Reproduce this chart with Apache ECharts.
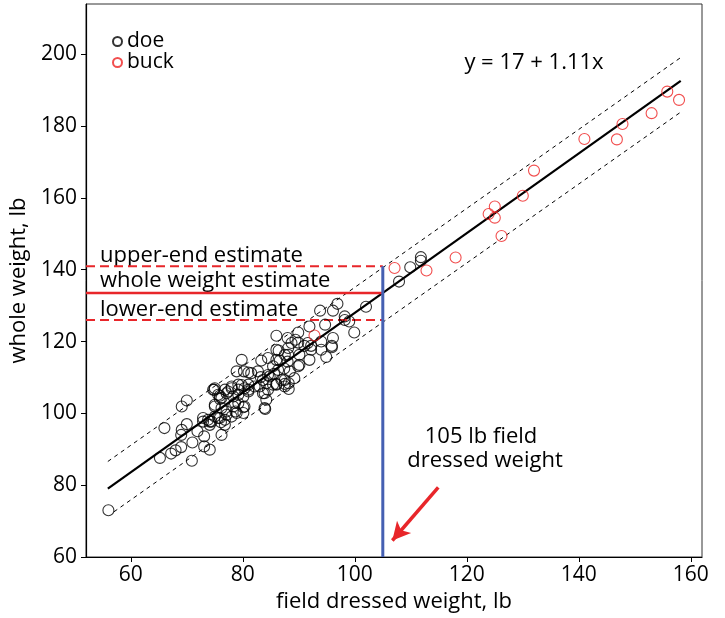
<!DOCTYPE html>
<html>
<head>
<meta charset="utf-8">
<script src="https://cdn.jsdelivr.net/npm/echarts@6/dist/echarts.min.js"></script>
<style>
  html, body { margin: 0; padding: 0; background: #fff; }
  #main { width: 725px; height: 618px; }
</style>
</head>
<body>
<div id="main"></div>
<script>
// regression y = 17 + 1.11x
const intercept = 17;
const slope = 1.11;
const fitRange = [55.9, 158.2];

// prediction band ends
const upperBand = [[55.9, 86.6], [158.3, 199.2]];
const lowerBand = [[57.0, 72.6], [158.3, 184.0]];

// the worked example at 105 lb
const fieldWeight = 105;
const upperEstimate = 141;
const lowerEstimate = 126;
const wholeEstimate = intercept + slope * fieldWeight;

const xTicks = [60, 80, 100, 120, 140, 160];
const yTicks = [60, 80, 100, 120, 140, 160, 180, 200];

const arrowFrom = [114.9, 79.4];
const arrowTo = [106.7, 64.6];

const doe = [
  [56.0, 73.0], [65.2, 87.6], [66.0, 95.9], [67.2, 88.8], [68.0, 89.7], [69.0, 90.6],
  [69.1, 101.9], [70.0, 103.6], [70.0, 97.0], [69.1, 95.4], [69.0, 94.0], [70.9, 86.8],
  [71.9, 95.0], [71.0, 91.9], [73.1, 93.6], [73.1, 90.8], [74.1, 89.9], [72.9, 97.7],
  [74.1, 97.7], [74.9, 106.6], [75.0, 101.9], [75.9, 104.9], [76.1, 97.5], [76.2, 94.0],
  [77.1, 105.6], [77.1, 99.6], [76.8, 96.8], [78.0, 107.0], [78.6, 102.9], [78.7, 100.5],
  [79.2, 108.0], [80.1, 101.7], [80.3, 107.0], [81.0, 108.0], [83.0, 107.5], [83.9, 105.6],
  [84.2, 103.8], [84.0, 101.2], [86.0, 108.2], [87.5, 108.2],
  [73.8, 98.2], [72.9, 98.7], [74.1, 96.8], [75.0, 99.1], [75.9, 98.7], [76.8, 98.2],
  [78.0, 99.1], [78.9, 100.1], [78.3, 101.9], [77.1, 100.5], [76.2, 101.5], [75.0, 102.4],
  [78.3, 104.7], [76.2, 104.3], [75.6, 105.2], [74.7, 106.6], [76.8, 106.6], [78.0, 107.5],
  [79.8, 107.9], [79.2, 106.6], [81.0, 106.6], [82.1, 107.5], [83.9, 101.5], [83.6, 105.6],
  [84.5, 106.6], [84.2, 108.4], [86.0, 108.0], [87.5, 107.5], [88.2, 108.4], [89.2, 109.8],
  [86.9, 109.3], [85.6, 111.0], [86.3, 112.1], [84.8, 110.3], [83.6, 109.3], [78.9, 111.7],
  [80.2, 111.7], [81.5, 111.2], [82.7, 111.7], [79.8, 114.9], [85.4, 113.1], [84.5, 115.4],
  [86.0, 114.9], [88.0, 114.4], [86.4, 117.5], [87.5, 116.3], [88.1, 118.2], [90.1, 113.5],
  [91.9, 114.9], [94.9, 115.7], [94.0, 117.7], [95.9, 118.8], [96.1, 121.0], [94.0, 120.0],
  [92.2, 117.7], [91.6, 119.6], [88.7, 119.6], [89.9, 119.7], [86.0, 121.6], [88.0, 121.0],
  [89.9, 122.5], [94.7, 124.7], [91.9, 124.2], [99.9, 122.5], [102.0, 129.7], [99.0, 125.6],
  [98.2, 127.0], [96.1, 128.6], [93.8, 128.6], [96.9, 130.5],
  [89.4, 120.5], [91.0, 118.8], [92.2, 118.8], [95.9, 118.4], [90.1, 116.3], [88.1, 116.3],
  [86.0, 117.7], [86.6, 114.7], [83.3, 114.7], [81.0, 111.4], [83.2, 110.1], [84.5, 110.7],
  [87.5, 109.3], [88.4, 111.7], [89.9, 113.1], [88.2, 106.8], [87.4, 112.5], [85.4, 108.0],
  [81.0, 106.1], [80.1, 104.7], [79.2, 105.2], [77.4, 106.1], [75.9, 104.0], [75.0, 107.0],
  [79.2, 102.8], [80.3, 101.9], [80.1, 100.1], [74.4, 97.7], [75.6, 98.7],
  [107.9, 136.7], [109.9, 140.7], [111.8, 143.5], [111.8, 142.5], [98.2, 126.0]
];

const buck = [
  [155.8, 189.6], [157.9, 187.3], [153.0, 183.6], [147.8, 180.6], [146.8, 176.3],
  [141.0, 176.4], [132.0, 167.6], [130.0, 160.6], [125.0, 157.6], [123.9, 155.5],
  [125.0, 154.5], [126.2, 149.4], [118.0, 143.4], [112.8, 139.8], [107.1, 140.5],
  [92.8, 121.7]
];

const FONT = '"Open Sans", "Noto Sans", sans-serif';
const RED = '#e8262a';

const chart = echarts.init(document.getElementById('main'));

const line = (name, data, style) => ({
  name, type: 'line', data, symbol: 'none', silent: true,
  lineStyle: style, z: 3
});

const txt = (x, y, text, size, align) => ({
  type: 'text', x, y,
  style: { text, font: size + 'px ' + FONT, fill: '#000', align: align || 'left', verticalAlign: 'middle' }
});

const option = {
  animation: false,
  grid: {
    left: 84, right: 23, top: 4, bottom: 61,
    show: true, borderColor: '#333', borderWidth: 1
  },
  legend: {
    orient: 'vertical', left: 112, top: 31,
    itemWidth: 9, itemHeight: 9, itemGap: 0, padding: 0,
    data: [
      { name: 'doe', icon: 'circle' },
      { name: 'buck', icon: 'circle' }
    ],
    textStyle: { fontSize: 21, fontFamily: FONT, color: '#000', padding: [0, 0, 0, 0] }
  },
  xAxis: {
    type: 'value', min: 52, max: 162,
    name: 'field dressed weight, lb', nameLocation: 'middle', nameGap: 34,
    nameTextStyle: { fontSize: 22, fontFamily: FONT, color: '#000' },
    splitLine: { show: false },
    axisLine: { lineStyle: { color: '#000', width: 1.2 } },
    axisTick: { length: 5, customValues: xTicks, lineStyle: { color: '#000' } },
    axisLabel: { customValues: xTicks, fontSize: 21, fontFamily: FONT, color: '#000', margin: 8 }
  },
  yAxis: {
    type: 'value', min: 60, max: 214,
    name: 'whole weight, lb', nameLocation: 'middle', nameGap: 56,
    nameTextStyle: { fontSize: 22, fontFamily: FONT, color: '#000' },
    splitLine: { show: false },
    axisLine: { lineStyle: { color: '#000', width: 1.2 } },
    axisTick: { length: 5, customValues: yTicks, lineStyle: { color: '#000' } },
    axisLabel: { customValues: yTicks, fontSize: 21, fontFamily: FONT, color: '#000', margin: 9 }
  },
  series: [
    line('fit', fitRange.map(x => [x, intercept + slope * x]), { color: '#000', width: 2.2 }),
    line('upper band', upperBand, { color: '#000', width: 1, type: [4, 4] }),
    line('lower band', lowerBand, { color: '#000', width: 1, type: [4, 4] }),
    line('upper estimate', [[52, upperEstimate], [fieldWeight, upperEstimate]],
      { color: RED, width: 2, type: [9, 5] }),
    line('whole estimate', [[52, wholeEstimate], [fieldWeight, wholeEstimate]],
      { color: RED, width: 2.5 }),
    line('lower estimate', [[52, lowerEstimate], [fieldWeight, lowerEstimate]],
      { color: RED, width: 2, type: [9, 5] }),
    line('field weight', [[fieldWeight, 60], [fieldWeight, upperEstimate]],
      { color: '#4560b2', width: 3 }),
    {
      name: 'doe', type: 'scatter', data: doe, symbol: 'circle', symbolSize: 11, z: 4,
      itemStyle: { color: 'rgba(0,0,0,0)', borderColor: '#000', borderWidth: 1.1 }
    },
    {
      name: 'buck', type: 'scatter', data: buck, symbol: 'circle', symbolSize: 11, z: 4,
      itemStyle: { color: 'rgba(0,0,0,0)', borderColor: '#ee2222', borderWidth: 1.1 },
      markLine: {
        silent: true, symbol: ['none', 'arrow'], symbolSize: [14, 18],
        lineStyle: { color: RED, width: 3.5, type: 'solid' },
        label: { show: false },
        data: [[{ coord: arrowFrom }, { coord: arrowTo }]]
      }
    }
  ],
  graphic: [
    txt(100, 256, 'upper-end estimate', 22),
    txt(100, 281, 'whole weight estimate', 22),
    txt(100, 310, 'lower-end estimate', 22),
    txt(534, 63, 'y = 17 + 1.11x', 22, 'center'),
    txt(481, 437, '105 lb field', 22, 'center'),
    txt(485, 461, 'dressed weight', 22, 'center')
  ]
};

chart.setOption(option);
</script>
</body>
</html>
